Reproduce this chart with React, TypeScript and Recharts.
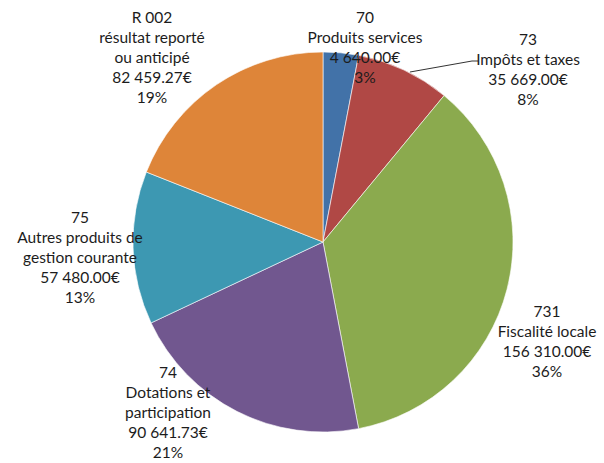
import { Cell, Pie, PieChart } from "recharts";

// slices clockwise from 12 o'clock
const codes = ["70", "73", "731", "74", "75", "R 002"];
const names = [
  ["Produits services"],
  ["Impôts et taxes"],
  ["Fiscalité locale"],
  ["Dotations et", "participation"],
  ["Autres produits de", "gestion courante"],
  ["résultat reporté", "ou anticipé"],
];
const amounts = ["4 640.00€", "35 669.00€", "156 310.00€", "90 641.73€", "57 480.00€", "82 459.27€"];
const shares = [3, 8, 36, 21, 13, 19];

const COLORS = ["#4272A8", "#B04845", "#8BAA4E", "#71578F", "#3D98B2", "#DE8539"];

// where each label's first line sits, relative to the pie centre
const LABEL_OFFSETS: [number, number][] = [
  [42, -224],
  [205, -202],
  [224, 70],
  [-155, 131],
  [-243, -24],
  [-171, -224],
];

const LINE_H = 20;

const data = codes.map((code, i) => ({
  name: code,
  value: shares[i],
  lines: [code, ...names[i], amounts[i], `${shares[i]}%`],
}));

function renderLabel(props: any) {
  const { cx, cy, index } = props;
  const [dx, dy] = LABEL_OFFSETS[index];
  const x = Number(cx) + dx;
  const y = Number(cy) + dy;
  const lines: string[] = data[index].lines;
  return (
    <g key={`lbl-${index}`}>
      {index === 1 && (
        <polyline
          points={`${Number(cx) + 87},${Number(cy) - 170} ${Number(cx) + 149},${Number(cy) - 181} ${Number(cx) + 155},${Number(cy) - 181}`}
          fill="none"
          stroke="#333"
          strokeWidth={1}
        />
      )}
      <text
        x={x}
        y={y}
        textAnchor="middle"
        fontFamily="Lato, 'Open Sans', sans-serif"
        fontSize={15.5}
        fill="#1c1c1c"
      >
        {lines.map((line, i) => (
          <tspan key={i} x={x} y={y + i * LINE_H + 5}>
            {line}
          </tspan>
        ))}
      </text>
    </g>
  );
}

export default function App() {
  return (
    <div style={{ position: "absolute", left: 0, top: 0, width: 604, height: 463, background: "#fff" }}>
      <PieChart width={604} height={463} margin={{ top: 0, right: 0, bottom: 0, left: 0 }}>
        <Pie
          data={data}
          dataKey="value"
          cx={323}
          cy={242}
          outerRadius={190}
          startAngle={90}
          endAngle={-270}
          stroke="#ffffff"
          strokeWidth={0.6}
          label={renderLabel}
          labelLine={false}
          isAnimationActive={false}
        >
          {data.map((entry, i) => (
            <Cell key={entry.name} fill={COLORS[i]} />
          ))}
        </Pie>
      </PieChart>
    </div>
  );
}
